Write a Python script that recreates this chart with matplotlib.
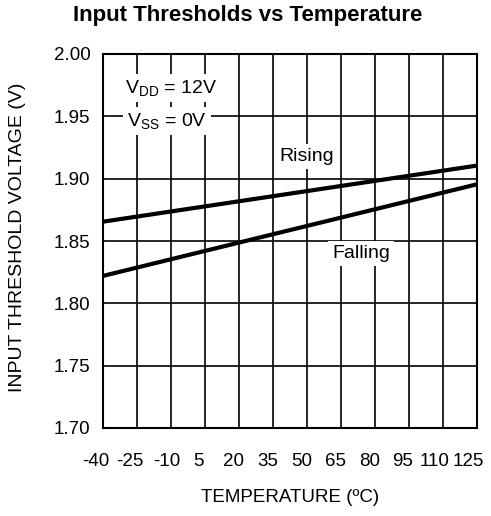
import numpy as np
import matplotlib.pyplot as plt
from matplotlib.transforms import ScaledTranslation

plt.rcParams['font.family'] = ['Liberation Sans', 'DejaVu Sans']

# data
temp = [-40, 125]
rising = [1.8655, 1.9105]
falling = [1.822, 1.8955]
x_ticks = [-40, -25, -10, 5, 20, 35, 50, 65, 80, 95, 110, 125]
y_ticks = [1.70, 1.75, 1.80, 1.85, 1.90, 1.95, 2.00]

# the original's x labels sit a little left of their grid lines (pixels)
x_label_shift = [-7, -7, -4, -7, -6, -5, -5, -6, -5, -6, -8, -9]

fig = plt.figure(figsize=(4.91, 5.16), dpi=100)
ax = fig.add_axes([103 / 491, 1 - 428 / 516, 374 / 491, 374 / 516])

ax.set_xlim(-40, 125)
ax.set_ylim(1.70, 2.00)
ax.set_xticks(x_ticks)
ax.set_yticks(y_ticks)
ax.set_xticklabels([str(t) for t in x_ticks])
ax.set_yticklabels([f'{v:.2f}' for v in y_ticks])
ax.tick_params(length=0, labelsize=13.5)
ax.tick_params(axis='x', pad=18)
ax.tick_params(axis='y', pad=9)
ax.grid(True, color='black', linewidth=1.2)
for s in ax.spines.values():
    s.set_linewidth(1.5)

for lbl, dx in zip(ax.get_xticklabels(), x_label_shift):
    lbl.set_transform(lbl.get_transform() + ScaledTranslation(dx / 100, 0, fig.dpi_scale_trans))

ax.plot(temp, rising, color='black', linewidth=3, solid_capstyle='butt', zorder=3)
ax.plot(temp, falling, color='black', linewidth=3, solid_capstyle='butt', zorder=3)

box = dict(facecolor='white', edgecolor='none', pad=3)
ax.text(-30.5, 1.973, '$\\mathregular{V_{DD}}$ = 12V', fontsize=14, va='center', ha='left', bbox=box, zorder=4)
ax.text(-29.5, 1.946, '$\\mathregular{V_{SS}}$ = 0V', fontsize=14, va='center', ha='left', bbox=box, zorder=4)
ax.text(50, 1.9177, 'Rising', fontsize=14, va='center', ha='center', bbox=box, zorder=4)
ax.text(74, 1.8403, 'Falling', fontsize=14, va='center', ha='center', bbox=box, zorder=4)

ax.set_xlabel('TEMPERATURE (ºC)', fontsize=13.5)
ax.set_ylabel('INPUT THRESHOLD VOLTAGE (V)', fontsize=14)
ax.xaxis.set_label_coords(0.5, (428 - 497) / 374)
ax.xaxis.label.set_va('center')
ax.yaxis.set_label_coords((18 - 103) / 374, 0.51)
ax.yaxis.label.set_va('center')
fig.suptitle('Input Thresholds vs Temperature', fontsize=16, fontweight='bold',
             y=1 - 15 / 516, va='center', x=248 / 491)

fig.savefig('out.png', dpi=100)
